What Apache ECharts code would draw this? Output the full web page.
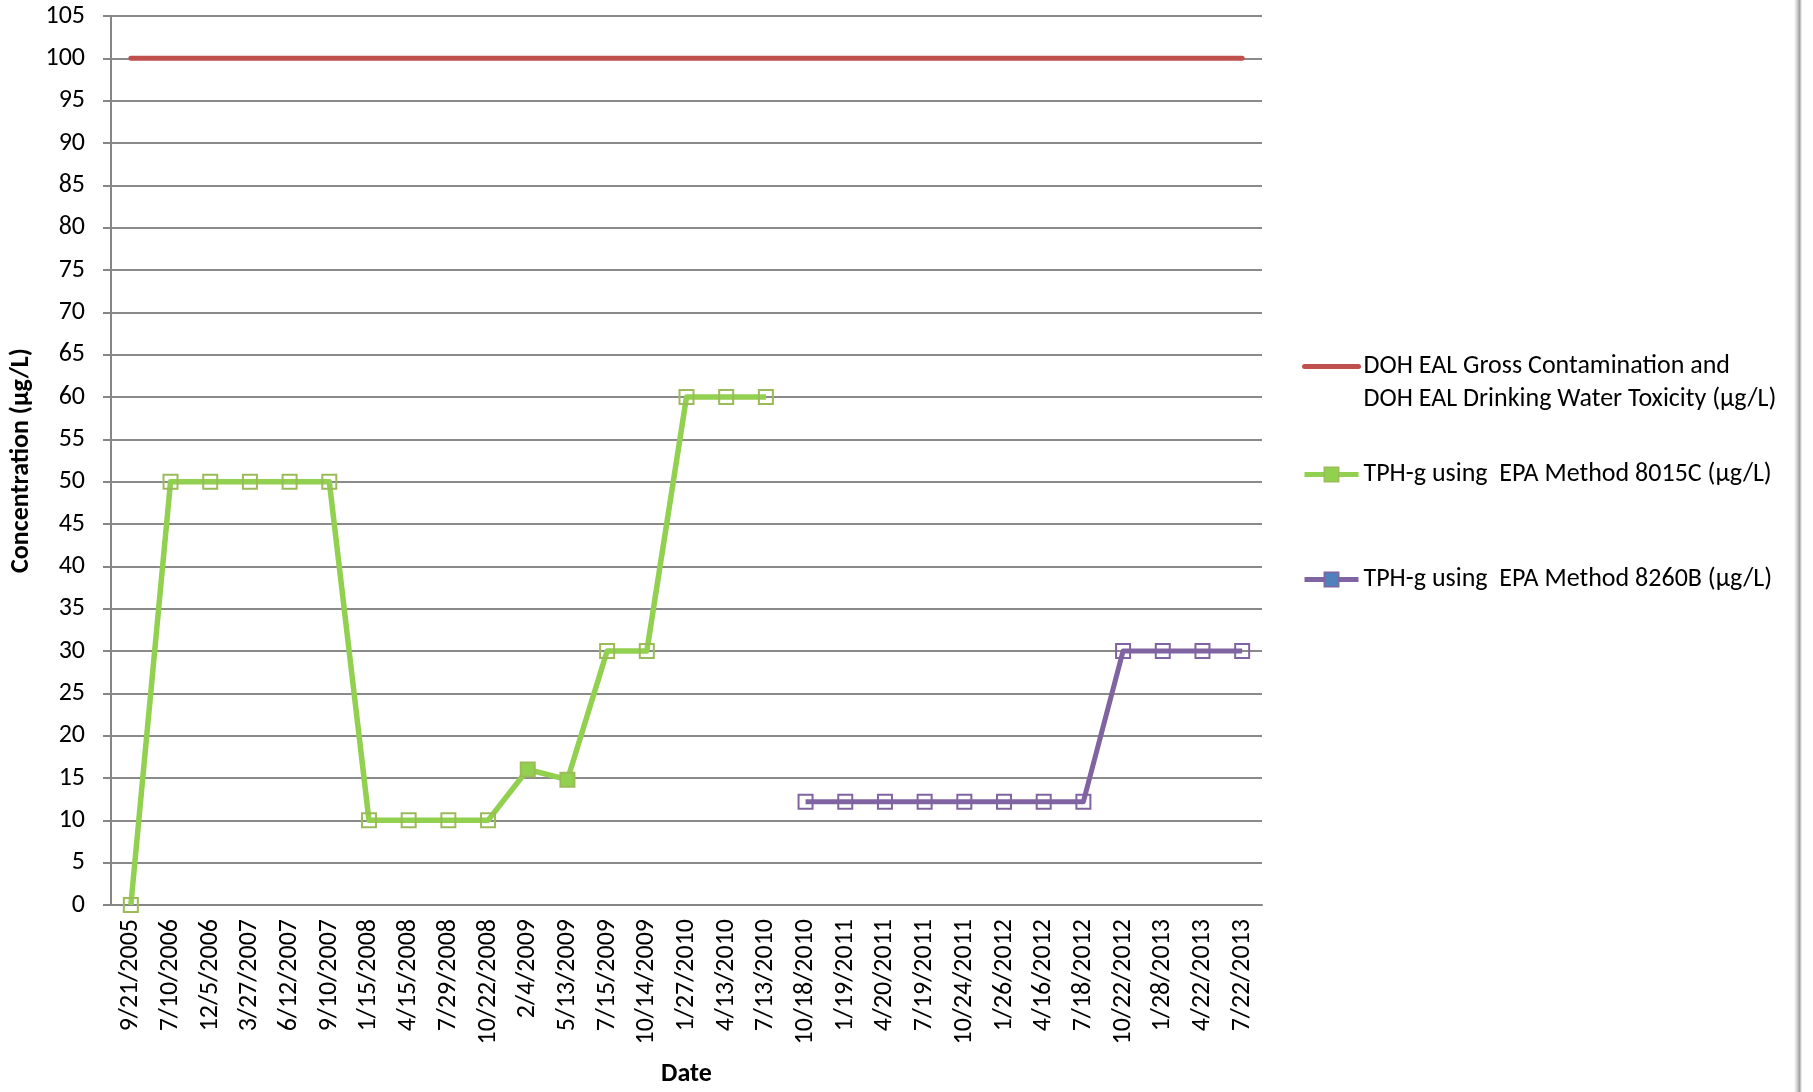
<!DOCTYPE html>
<html>
<head>
<meta charset="utf-8">
<script src="https://cdn.jsdelivr.net/npm/echarts@6/dist/echarts.min.js"></script>
<style>
html,body{margin:0;padding:0;background:#fff;}
#chart{width:1813px;height:1092px;}
</style>
</head>
<body>
<div id="chart"></div>
<script>
var dates = ["9/21/2005","7/10/2006","12/5/2006","3/27/2007","6/12/2007","9/10/2007","1/15/2008","4/15/2008","7/29/2008","10/22/2008","2/4/2009","5/13/2009","7/15/2009","10/14/2009","1/27/2010","4/13/2010","7/13/2010","10/18/2010","1/19/2011","4/20/2011","7/19/2011","10/24/2011","1/26/2012","4/16/2012","7/18/2012","10/22/2012","1/28/2013","4/22/2013","7/22/2013"];
var dohEal = [100,100,100,100,100,100,100,100,100,100,100,100,100,100,100,100,100,100,100,100,100,100,100,100,100,100,100,100,100];
var tph8015C = [0,50,50,50,50,50,10,10,10,10,16,14.8,30,30,60,60,60,null,null,null,null,null,null,null,null,null,null,null,null];
var tph8260B = [null,null,null,null,null,null,null,null,null,null,null,null,null,null,null,null,null,12.2,12.2,12.2,12.2,12.2,12.2,12.2,12.2,30,30,30,30];
var detected8015C = ["2/4/2009","5/13/2009"];

var names = [
  "DOH EAL Gross Contamination and\nDOH EAL Drinking Water Toxicity (µg/L)",
  "TPH-g using  EPA Method 8015C (µg/L)",
  "TPH-g using  EPA Method 8260B (µg/L)"
];

var FONT = 'Carlito, "Liberation Sans", sans-serif';
var GREEN = '#92D050', GREEN_B = '#9BBB59', RED = '#C0504D', PURPLE = '#8064A2';

var greenData = tph8015C.map(function (v, i) {
  if (detected8015C.indexOf(dates[i]) >= 0) {
    return { value: v, itemStyle: { color: GREEN, borderColor: GREEN_B } };
  }
  return v;
});

var chart = echarts.init(document.getElementById('chart'), null, { renderer: 'canvas' });
var legendText = { fontFamily: FONT, fontSize: 26, color: '#000', lineHeight: 33 };
var legendBase = { orient: 'vertical', left: 1297, itemWidth: 54, itemHeight: 18, itemGap: 0,
  textStyle: legendText, selectedMode: false };
chart.setOption({
  animation: false,
  backgroundColor: '#fff',
  grid: { left: 111, right: 551, top: 16, bottom: 186, containLabel: false },
  legend: [
    Object.assign({}, legendBase, { top: 312,
      formatter: function (n) { return ' \n' + n; },
      data: [{ name: names[0], itemStyle: { color: 'rgba(0,0,0,0)', borderColor: 'rgba(0,0,0,0)' },
               lineStyle: { color: RED, width: 5 } }] }),
    Object.assign({}, legendBase, { top: 453,
      data: [{ name: names[1], itemStyle: { color: GREEN, borderColor: GREEN_B, borderWidth: 1.5 },
               lineStyle: { color: GREEN, width: 5 } }] }),
    Object.assign({}, legendBase, { top: 558,
      data: [{ name: names[2], itemStyle: { color: '#4F81BD', borderColor: PURPLE, borderWidth: 1.5 },
               lineStyle: { color: PURPLE, width: 5 } }] })
  ],
  xAxis: {
    type: 'category',
    data: dates,
    boundaryGap: true,
    name: 'Date',
    nameLocation: 'middle',
    nameGap: 156,
    nameTextStyle: { fontFamily: FONT, fontSize: 26, fontWeight: 'bold', color: '#000' },
    axisLine: { lineStyle: { color: '#868686', width: 2 } },
    axisTick: { show: false },
    axisLabel: { rotate: 90, interval: 0, margin: 14, fontFamily: FONT, fontSize: 26, color: '#000' },
    splitLine: { show: false }
  },
  yAxis: {
    type: 'value',
    min: 0, max: 105, interval: 5,
    name: 'Concentration (µg/L)',
    nameLocation: 'middle',
    nameRotate: 90,
    nameGap: 77,
    nameTextStyle: { fontFamily: FONT, fontSize: 26, fontWeight: 'bold', color: '#000' },
    axisLine: { show: true, lineStyle: { color: '#868686', width: 2 } },
    axisTick: { show: true, length: 8, lineStyle: { color: '#868686', width: 2 } },
    axisLabel: { margin: 26, fontFamily: FONT, fontSize: 26, color: '#000' },
    splitLine: { show: true, lineStyle: { color: '#8a8a8a', width: 2 } }
  },
  series: [
    { name: names[0], type: 'line', data: dohEal, symbol: 'none',
      lineStyle: { color: RED, width: 5, cap: 'round' }, itemStyle: { color: RED } },
    { name: names[1], type: 'line', data: greenData, symbol: 'rect', symbolSize: 14,
      connectNulls: false,
      lineStyle: { color: GREEN, width: 5.5, join: 'round' },
      itemStyle: { color: 'rgba(0,0,0,0)', borderColor: GREEN_B, borderWidth: 2 } },
    { name: names[2], type: 'line', data: tph8260B, symbol: 'rect', symbolSize: 14,
      lineStyle: { color: PURPLE, width: 5, join: 'round' },
      itemStyle: { color: 'rgba(0,0,0,0)', borderColor: PURPLE, borderWidth: 2 } }
  ],
  graphic: [
    { type: 'rect', left: 1794, top: 0, silent: true,
      shape: { width: 8, height: 1092 },
      style: { fill: new echarts.graphic.LinearGradient(0, 0, 1, 0, [
        { offset: 0, color: '#ffffff' }, { offset: 0.4, color: '#d0d0d0' },
        { offset: 0.7, color: '#a0a0a0' }, { offset: 1, color: '#ffffff' }]) } }
  ]
});
</script>
</body>
</html>
